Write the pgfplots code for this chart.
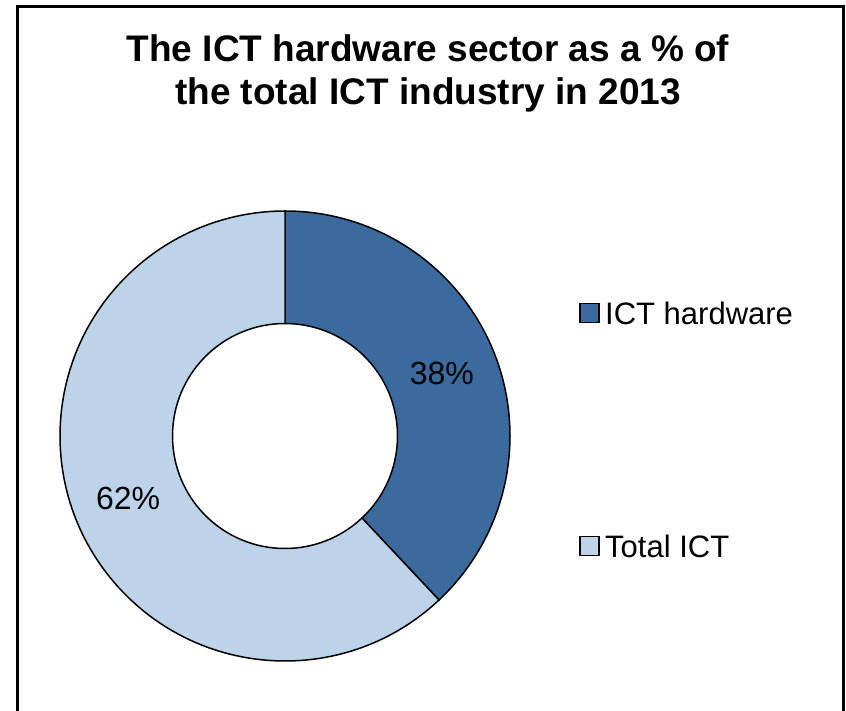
\documentclass[border=0pt]{standalone}
\usepackage{pgfplots}
\pgfplotsset{compat=1.18}
\usepackage{pgfplotstable}
\usepackage{fontspec}
\setmainfont{Liberation Sans}

\definecolor{hwblue}{HTML}{3A6A9E}
\definecolor{totblue}{HTML}{BDD3EA}

% share of the ICT industry, in percent
\pgfplotstableread{
share
38
62
}\sharetable

\pgfplotstablegetelem{0}{share}\of\sharetable \let\hw\pgfplotsretval
\pgfplotstablegetelem{1}{share}\of\sharetable \let\tot\pgfplotsretval
\pgfmathsetmacro{\aA}{90}
\pgfmathsetmacro{\aB}{90-3.6*\hw}
\pgfmathsetmacro{\aC}{\aB-3.6*\tot}
\pgfmathsetmacro{\mA}{(\aA+\aB)/2}
\pgfmathsetmacro{\mB}{(\aB+\aC)/2}

% ring sector: start angle, end angle, fill
\newcommand\sector[3]{%
  \filldraw[fill=#3, draw=black, line width=1.5pt]
    (axis cs:{cos(#1)},{sin(#1)}) arc[start angle=#1, end angle=#2, radius=225pt]
    -- (axis cs:{0.5*cos(#2)},{0.5*sin(#2)}) arc[start angle=#2, end angle=#1, radius=112.5pt]
    -- cycle;}

\begin{document}
\begin{tikzpicture}[x=1pt,y=1pt]
\useasboundingbox (0,0) rectangle (846,710);
\draw[line width=3pt] (17,-5) -- (17,703) -- (843,703) -- (843,-5);

\node[anchor=base, inner sep=0] at (428,648) {\fontsize{37}{43}\selectfont\bfseries The ICT hardware sector as a \% of};
\node[anchor=base, inner sep=0] at (428,605) {\fontsize{37}{43}\selectfont\bfseries the total ICT industry in 2013};

\begin{axis}[
  at={(60pt,49pt)}, anchor=south west,
  width=450pt, height=450pt, scale only axis,
  xmin=-1, xmax=1, ymin=-1, ymax=1,
  hide axis, clip=false]
  \sector{\aA}{\aB}{hwblue}
  \sector{\aB}{\aC}{totblue}
  \node[font=\fontsize{32}{38}\selectfont] at (axis cs:{0.75*cos(\mA)},{0.75*sin(\mA)}) {\hw\%};
  \node[font=\fontsize{32}{38}\selectfont] at (axis cs:{0.75*cos(\mB)},{0.75*sin(\mB)}) {\tot\%};
\end{axis}

% legend
\filldraw[fill=hwblue, draw=black, line width=1.2pt] (580,387.5) rectangle (599,406.5);
\node[anchor=west, inner sep=0, font=\fontsize{31}{37}\selectfont] at (605,397) {ICT hardware};
\filldraw[fill=totblue, draw=black, line width=1.2pt] (580,154.5) rectangle (599,173.5);
\node[anchor=west, inner sep=0, font=\fontsize{31}{37}\selectfont] at (605,164) {Total ICT};
\end{tikzpicture}
\end{document}
